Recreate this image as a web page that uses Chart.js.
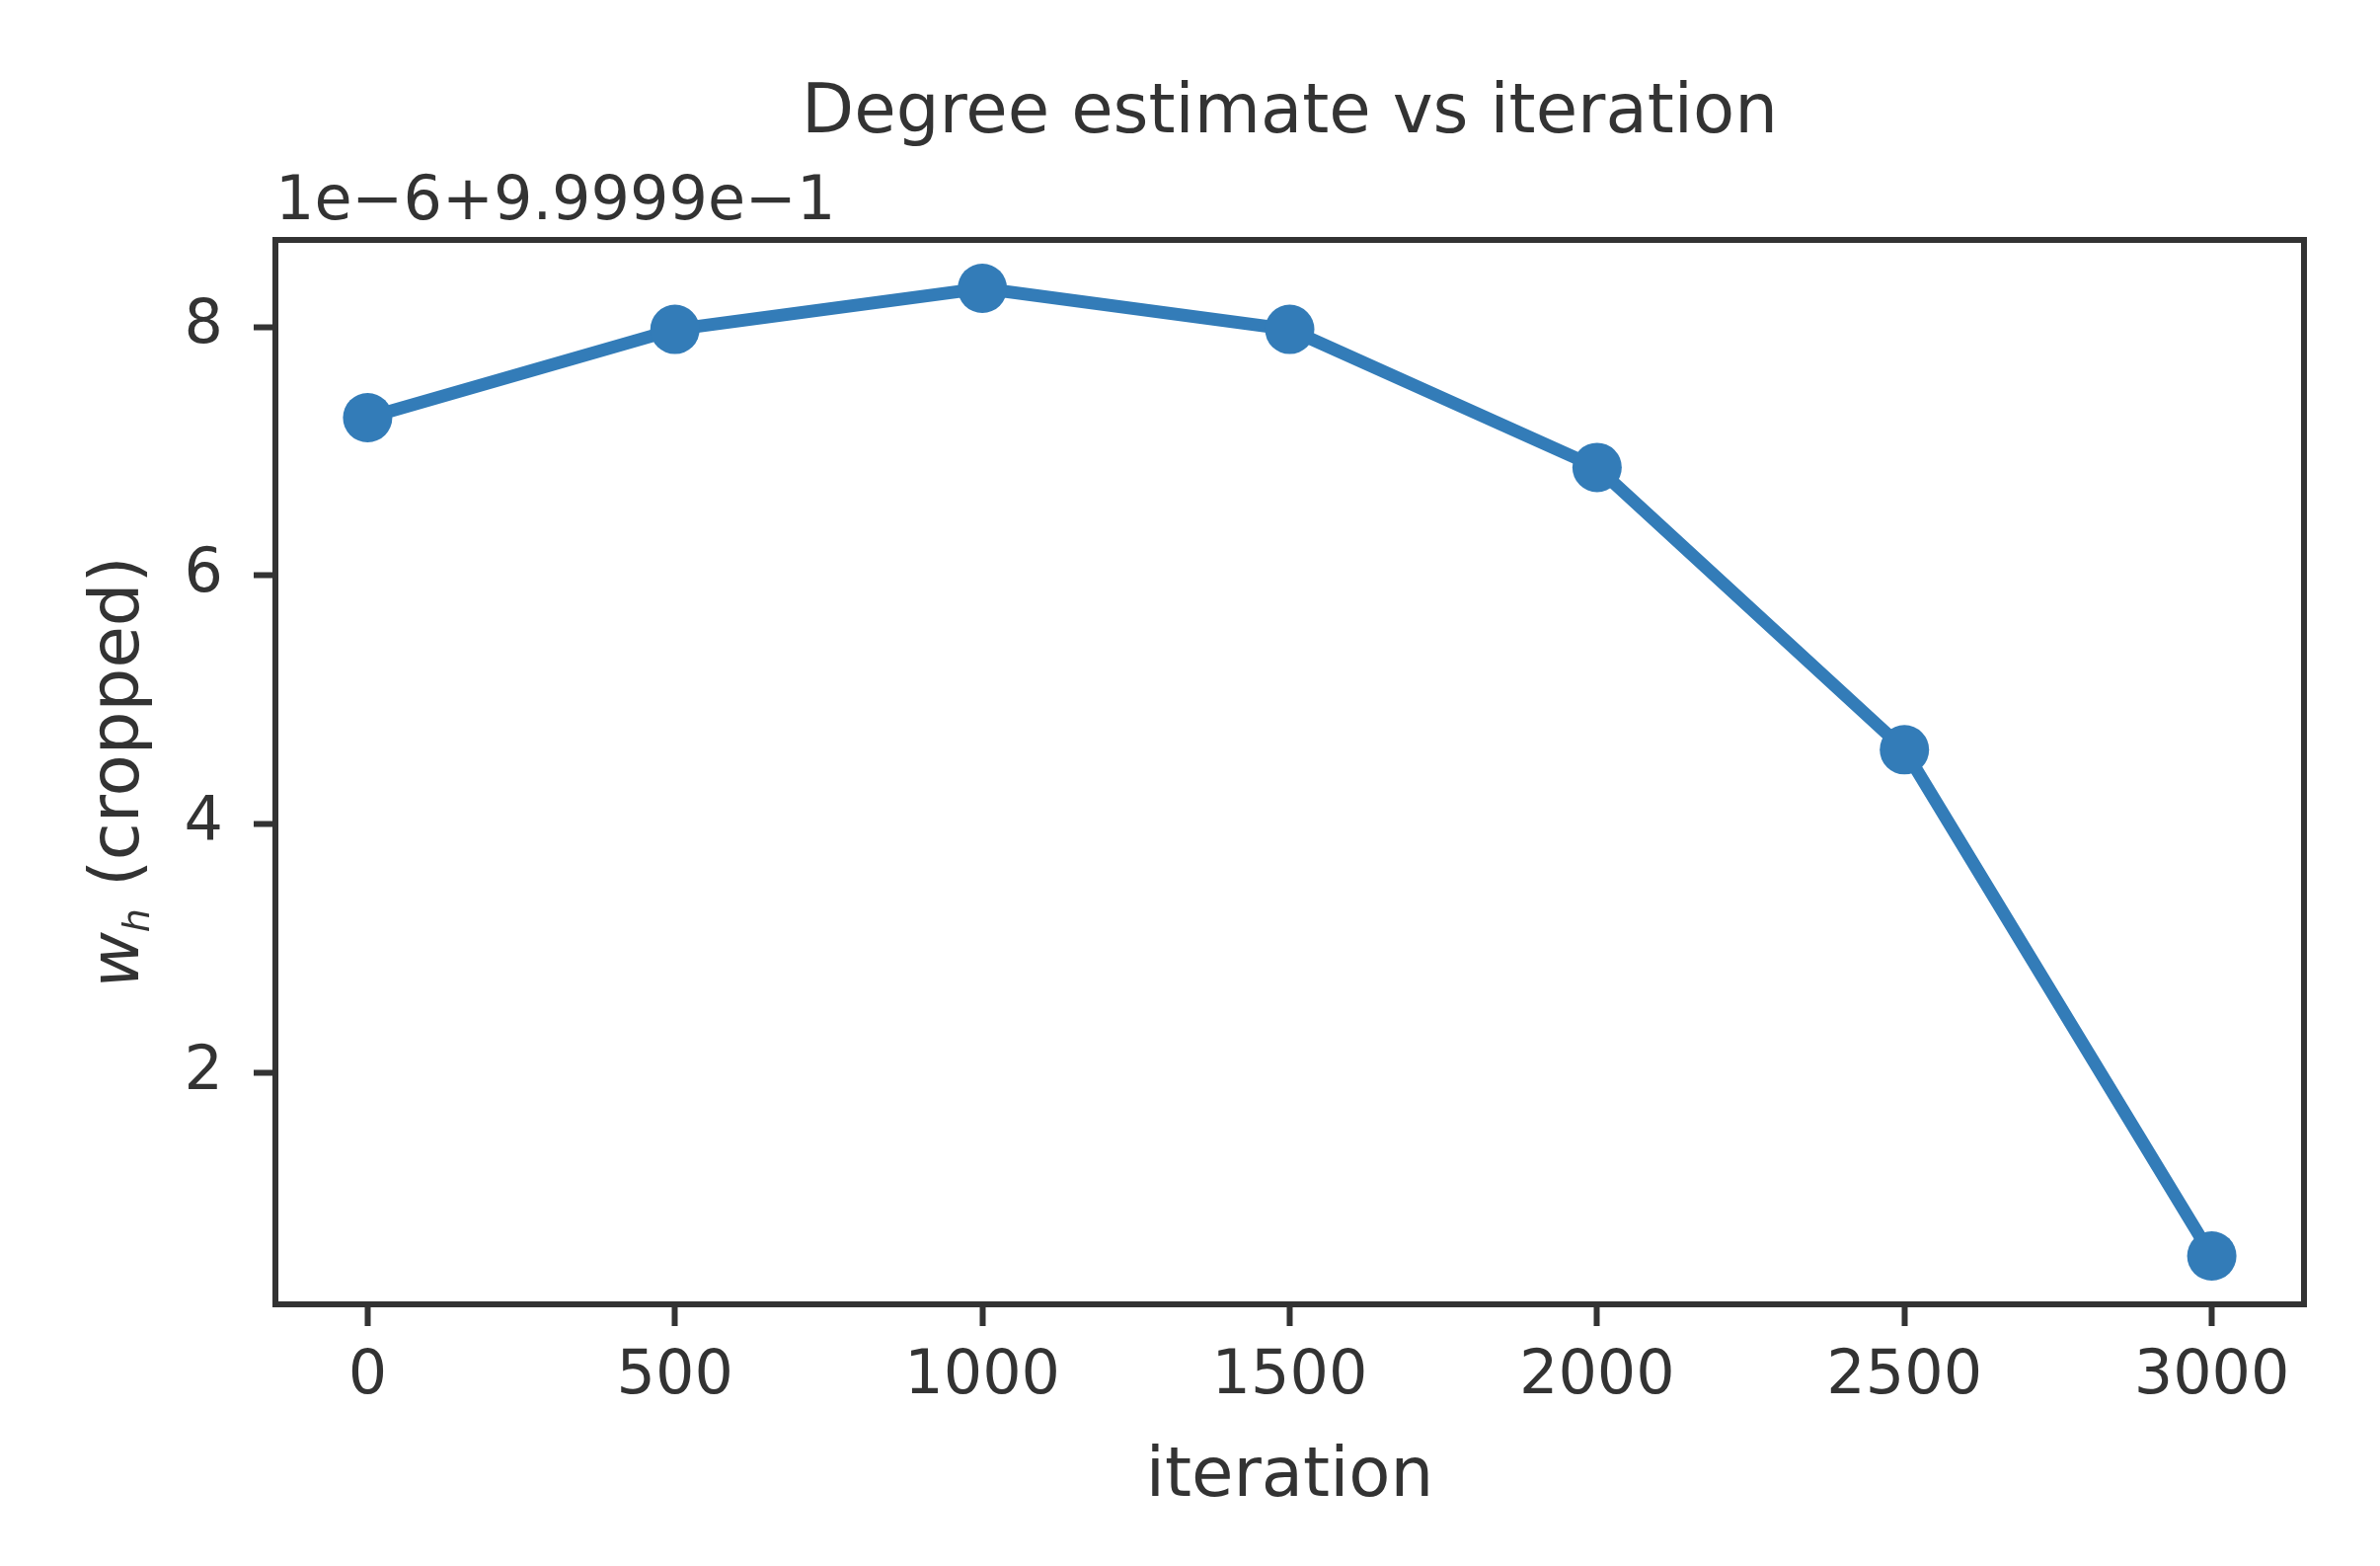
<!DOCTYPE html>
<html><head><meta charset="utf-8">
<script src="https://cdn.jsdelivr.net/npm/chart.js@4"></script>
<style>html,body{margin:0;padding:0;background:#fff}canvas{display:block}</style>
</head><body>
<canvas id="c" width="2411" height="1586" style="width:2411px;height:1586px"></canvas>
<script>
// ---- data ----
const iterations = [0, 500, 1000, 1500, 2000, 2500, 3000];
const whCropped = [7.27, 7.98, 8.31, 7.98, 6.87, 4.60, 0.53]; // in units of 1e-6, offset 9.9999e-1
const xTicks = [0, 500, 1000, 1500, 2000, 2500, 3000];
const yTicks = [2, 4, 6, 8];
const titleText = 'Degree estimate vs iteration';
const offsetText = '1e\u22126+9.9999e\u22121';
const xLabel = 'iteration';
const yLabelMain = 'w', yLabelSub = 'h', yLabelRest = ' (cropped)';

const INK = '#333333';
const LINE = '#337cb8';
const FONT = '"DejaVu Sans"';

function padded(arr) {
  const mn = Math.min(...arr), mx = Math.max(...arr), d = (mx - mn) * 0.05;
  return [mn - d, mx + d];
}
const [xMin, xMax] = padded(iterations);
const [yMin, yMax] = padded(whCropped);

const deco = {
  id: 'deco',
  afterDraw(chart) {
    const ctx = chart.ctx, a = chart.chartArea;
    const cx = (a.left + a.right) / 2, cy = (a.top + a.bottom) / 2;
    ctx.save();
    ctx.strokeStyle = INK;
    ctx.lineWidth = 6;
    ctx.strokeRect(a.left, a.top, a.right - a.left, a.bottom - a.top);
    ctx.fillStyle = INK;
    ctx.textBaseline = 'alphabetic';
    ctx.textAlign = 'center';
    ctx.font = '69px ' + FONT;
    ctx.fillText(titleText, cx, 134);
    ctx.fillText(xLabel, cx, 1515);
    ctx.textAlign = 'left';
    ctx.font = '62px ' + FONT;
    ctx.fillText(offsetText, a.left, 222);
    // y label with italic w and subscript h
    ctx.translate(140, cy);
    ctx.rotate(-Math.PI / 2);
    const fMain = 'italic 69px ' + FONT, fSub = 'italic 38px ' + FONT, fRest = '69px ' + FONT;
    ctx.font = fMain; const wW = ctx.measureText(yLabelMain).width;
    ctx.font = fSub; const hW = ctx.measureText(yLabelSub).width;
    ctx.font = fRest; const rW = ctx.measureText(yLabelRest).width;
    let x0 = -(wW + hW + rW) / 2;
    ctx.font = fMain; ctx.fillText(yLabelMain, x0, 0);
    ctx.font = fSub; ctx.fillText(yLabelSub, x0 + wW, 11);
    ctx.font = fRest; ctx.fillText(yLabelRest, x0 + wW + hW, 0);
    ctx.restore();
  }
};

new Chart(document.getElementById('c'), {
  type: 'line',
  data: {
    datasets: [{
      data: iterations.map((x, i) => ({ x: x, y: whCropped[i] })),
      borderColor: LINE,
      backgroundColor: LINE,
      borderWidth: 13,
      pointRadius: 25,
      pointHoverRadius: 25,
      pointBorderWidth: 0,
      pointBackgroundColor: LINE,
      tension: 0,
      fill: false
    }]
  },
  options: {
    responsive: false,
    animation: false,
    devicePixelRatio: 1,
    layout: { padding: { left: 0, top: 243, right: 77, bottom: 0 } },
    plugins: { legend: { display: false }, tooltip: { enabled: false }, title: { display: false } },
    scales: {
      x: {
        type: 'linear',
        min: xMin, max: xMax,
        afterBuildTicks: s => { s.ticks = xTicks.map(v => ({ value: v })); },
        afterFit: s => { s.height = 265; },
        ticks: { color: INK, font: { family: 'DejaVu Sans', size: 62 }, padding: 15, maxRotation: 0, autoSkip: false, callback: v => String(v) },
        grid: { display: true, drawOnChartArea: false, drawTicks: true, tickLength: 22, tickColor: INK, tickWidth: 6 },
        border: { display: false }
      },
      y: {
        type: 'linear',
        min: yMin, max: yMax,
        afterBuildTicks: s => { s.ticks = yTicks.map(v => ({ value: v })); },
        afterFit: s => { s.width = 279; },
        ticks: { color: INK, font: { family: 'DejaVu Sans', size: 62 }, padding: 31, autoSkip: false, callback: v => String(v) },
        grid: { display: true, drawOnChartArea: false, drawTicks: true, tickLength: 22, tickColor: INK, tickWidth: 6 },
        border: { display: false }
      }
    }
  },
  plugins: [deco]
});
</script>
</body></html>
